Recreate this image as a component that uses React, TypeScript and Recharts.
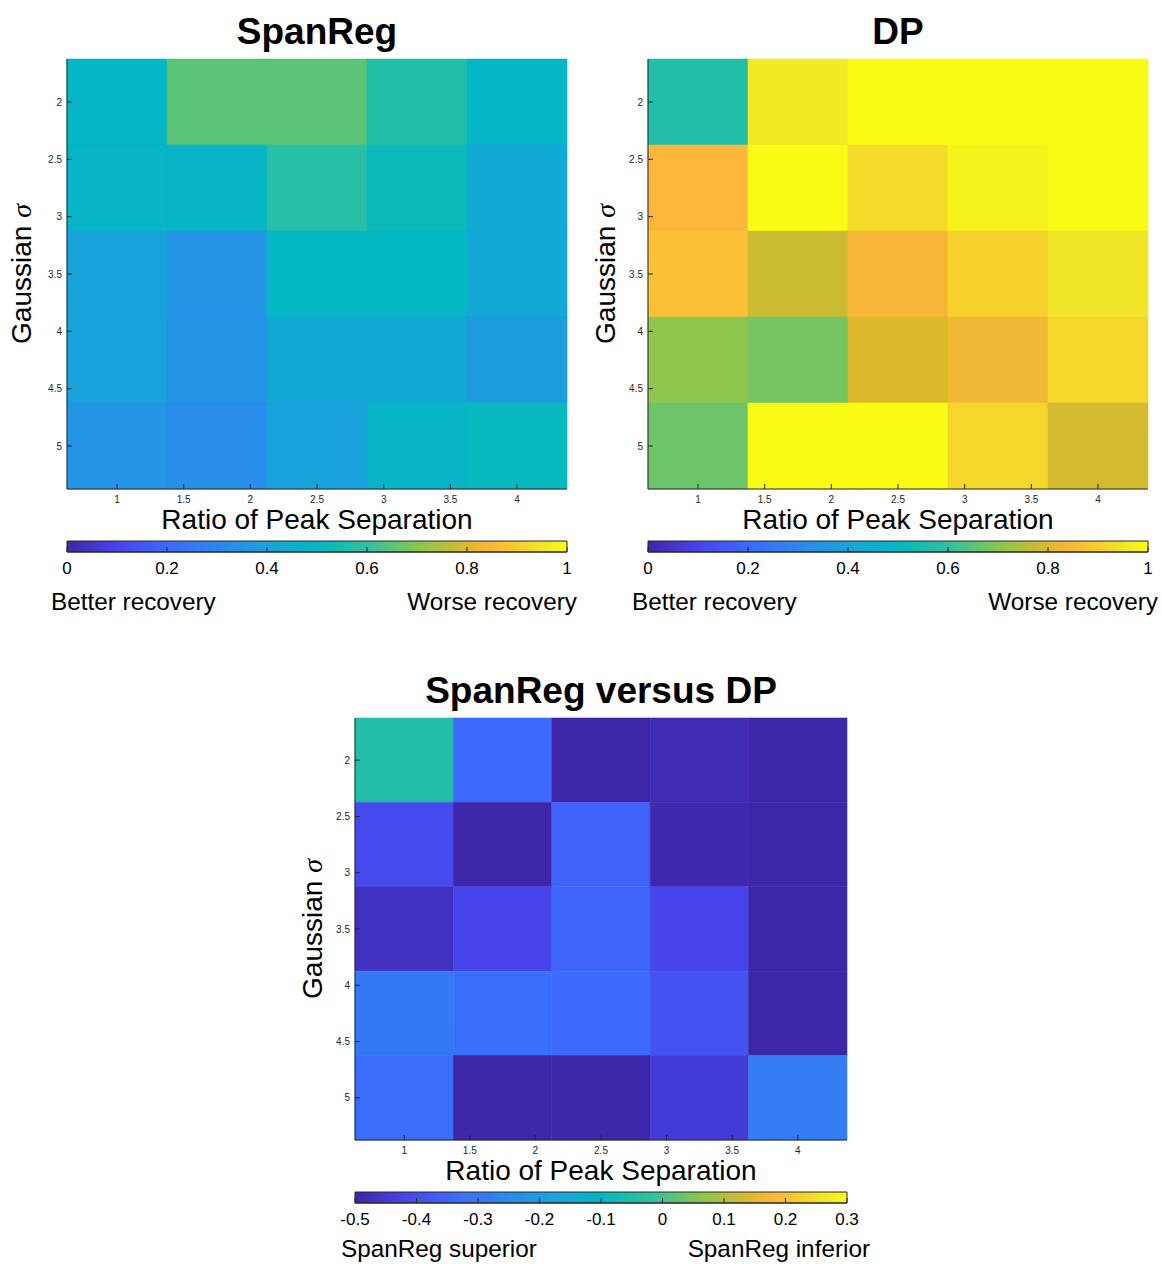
import React from 'react';
import { ComposedChart, XAxis, YAxis, ReferenceArea, Scatter } from 'recharts';

// grid: columns = ratio of peak separation, rows = gaussian sigma (imagesc-style cell centres)
const X_CENTERS = [1, 1.75, 2.5, 3.25, 4];
const Y_CENTERS = [2, 2.75, 3.5, 4.25, 5];
const X_TICKS = [1, 1.5, 2, 2.5, 3, 3.5, 4];
const Y_TICKS = [2, 2.5, 3, 3.5, 4, 4.5, 5];

// rows top → bottom (sigma 2 … 5), columns left → right (ratio 1 … 4)
const SPANREG = [
  [0.49, 0.65, 0.65, 0.57, 0.49],
  [0.48, 0.48, 0.58, 0.52, 0.43],
  [0.41, 0.35, 0.50, 0.50, 0.43],
  [0.40, 0.35, 0.43, 0.43, 0.38],
  [0.35, 0.33, 0.40, 0.48, 0.51],
];
const DP = [
  [0.57, 0.96, 1.00, 1.00, 1.00],
  [0.85, 1.00, 0.93, 0.98, 1.00],
  [0.87, 0.78, 0.84, 0.91, 0.95],
  [0.71, 0.68, 0.80, 0.83, 0.92],
  [0.67, 1.00, 1.00, 0.92, 0.79],
];
const DIFF = [
  [-0.044, -0.34, -0.50, -0.485, -0.50],
  [-0.41, -0.50, -0.355, -0.495, -0.50],
  [-0.47, -0.42, -0.35, -0.42, -0.50],
  [-0.30, -0.325, -0.34, -0.39, -0.50],
  [-0.33, -0.50, -0.50, -0.445, -0.29],
];

const RECOVERY_TICKS = [0, 0.2, 0.4, 0.6, 0.8, 1];
const DIFF_TICKS = [-0.5, -0.4, -0.3, -0.2, -0.1, 0, 0.1, 0.2, 0.3];

// parula-like colormap anchors
const PARULA: [number, string][] = [
  [0.0, '#3E26A8'],
  [0.1, '#4744EB'],
  [0.2, '#3D6AFC'],
  [0.3, '#2D86EE'],
  [0.4, '#1AA2DC'],
  [0.5, '#03B8C3'],
  [0.6, '#30C19D'],
  [0.7, '#86C752'],
  [0.8, '#DDB92B'],
  [0.85, '#FCB73B'],
  [0.9, '#F8CD2E'],
  [0.95, '#F1E528'],
  [1.0, '#F9FB14'],
];

const FONT = '"Liberation Sans", Arial, Helvetica, sans-serif';
const INK = '#262626';
const AX = { stroke: INK, strokeWidth: 1 };

function rgb(h: string) {
  return [1, 3, 5].map(i => parseInt(h.slice(i, i + 2), 16));
}

function parula(t: number) {
  const v = Math.max(0, Math.min(1, t));
  for (let i = 1; i < PARULA.length; i++) {
    const [t1, c1] = PARULA[i];
    if (v <= t1) {
      const [t0, c0] = PARULA[i - 1];
      const f = (v - t0) / (t1 - t0);
      const a = rgb(c0), b = rgb(c1);
      const m = a.map((x, k) => Math.round(x + (b[k] - x) * f));
      return `rgb(${m[0]},${m[1]},${m[2]})`;
    }
  }
  return PARULA[PARULA.length - 1][1];
}

// ---- tick renderers (MATLAB style: ticks point into the box) ----
const BottomTick = (p: any) => (
  <g>
    <line x1={p.x} x2={p.x} y1={p.y} y2={p.y - 5} stroke={INK} />
    <text x={p.x} y={p.y + 10} textAnchor="middle" dominantBaseline="central"
      fontSize={10} fontFamily={FONT} fill={INK}>{p.payload.value}</text>
  </g>
);
const TopTick = (p: any) => <line x1={p.x} x2={p.x} y1={p.y} y2={p.y + 5} stroke={INK} />;
const LeftTick = (p: any) => (
  <g>
    <line x1={p.x} x2={p.x + 5} y1={p.y} y2={p.y} stroke={INK} />
    <text x={p.x - 5} y={p.y} textAnchor="end" dominantBaseline="central"
      fontSize={10} fontFamily={FONT} fill={INK}>{p.payload.value}</text>
  </g>
);
const RightTick = (p: any) => <line x1={p.x} x2={p.x - 5} y1={p.y} y2={p.y} stroke={INK} />;

const BarTick = (p: any) => (
  <g>
    <line x1={p.x} x2={p.x} y1={p.y} y2={p.y - 5} stroke={INK} />
    <text x={p.x} y={p.y + 16} textAnchor="middle" dominantBaseline="central"
      fontSize={17} fontFamily={FONT} fill="#000">{p.payload.value}</text>
  </g>
);

function Heatmap({ values, cmin, cmax, left, top, w, h }: {
  values: number[][]; cmin: number; cmax: number; left: number; top: number; w: number; h: number;
}) {
  const hx = (X_CENTERS[1] - X_CENTERS[0]) / 2;
  const hy = (Y_CENTERS[1] - Y_CENTERS[0]) / 2;
  const xDom = [X_CENTERS[0] - hx, X_CENTERS[X_CENTERS.length - 1] + hx];
  const yDom = [Y_CENTERS[0] - hy, Y_CENTERS[Y_CENTERS.length - 1] + hy];
  const cells = Y_CENTERS.flatMap((y, r) => X_CENTERS.map((x, c) => ({ x, y, v: values[r][c] })));
  const ML = 50, MT = 10, MR = 10, MB = 20;
  return (
    <div style={{ position: 'absolute', left: left - ML, top: top - MT }}>
      <ComposedChart width={w + ML + MR} height={h + MT + MB} data={cells}
        margin={{ top: MT, right: MR, left: 0, bottom: 0 }}>
        {cells.map((d, i) => {
          const col = parula((d.v - cmin) / (cmax - cmin));
          return (
            <ReferenceArea key={i} xAxisId="b" yAxisId="l" ifOverflow="visible"
              x1={d.x - hx} x2={d.x + hx} y1={d.y - hy} y2={d.y + hy}
              fill={col} fillOpacity={1} stroke={col} strokeWidth={0.6} />
          );
        })}
        <Scatter xAxisId="b" yAxisId="l" dataKey="y" isAnimationActive={false}
          shape={() => <g />} />
        <XAxis xAxisId="b" type="number" dataKey="x" domain={xDom} ticks={X_TICKS} interval={0}
          allowDataOverflow height={MB} tickSize={0} tickMargin={0} tickLine={false}
          axisLine={AX} tick={BottomTick} />
        <XAxis xAxisId="t" orientation="top" type="number" dataKey="x" domain={xDom} ticks={X_TICKS}
          interval={0} allowDataOverflow height={0} tickSize={0} tickMargin={0} tickLine={false}
          axisLine={AX} tick={TopTick} />
        <YAxis yAxisId="l" type="number" dataKey="y" domain={yDom} ticks={Y_TICKS} interval={0}
          reversed allowDataOverflow width={ML} tickSize={0} tickMargin={0} tickLine={false}
          axisLine={AX} tick={LeftTick} />
        <YAxis yAxisId="r" orientation="right" type="number" dataKey="y" domain={yDom} ticks={Y_TICKS}
          interval={0} reversed allowDataOverflow width={0} tickSize={0} tickMargin={0} tickLine={false}
          axisLine={AX} tick={RightTick} />
      </ComposedChart>
    </div>
  );
}

function ColorBar({ id, cmin, cmax, ticks, left, top, w, h }: {
  id: string; cmin: number; cmax: number; ticks: number[]; left: number; top: number; w: number; h: number;
}) {
  const ML = 24, MR = 24, MT = 2, MB = 34;
  return (
    <div style={{ position: 'absolute', left: left - ML, top: top - MT }}>
      <ComposedChart width={w + ML + MR} height={h + MT + MB} data={[{ x: cmin, y: 0 }, { x: cmax, y: 1 }]}
        margin={{ top: MT, right: MR, left: ML, bottom: 0 }}>
        <defs>
          <linearGradient id={id} x1="0" y1="0" x2="1" y2="0">
            {PARULA.map(([t, c]) => <stop key={t} offset={`${t * 100}%`} stopColor={c} />)}
          </linearGradient>
        </defs>
        <ReferenceArea xAxisId="cb" yAxisId="cby" x1={cmin} x2={cmax} y1={0} y2={1} ifOverflow="visible"
          fill={`url(#${id})`} fillOpacity={1} stroke={INK} strokeWidth={1} />
        <XAxis xAxisId="cb" type="number" dataKey="x" domain={[cmin, cmax]} ticks={ticks} interval={0}
          allowDataOverflow height={MB} tickSize={0} tickMargin={0} tickLine={false}
          axisLine={AX} tick={BarTick} />
        <YAxis yAxisId="cby" type="number" dataKey="y" domain={[0, 1]} hide />
      </ComposedChart>
    </div>
  );
}

function Txt({ x, y, size, bold, anchor = 'middle', rotate, children }: {
  x: number; y: number; size: number; bold?: boolean; anchor?: 'start' | 'middle' | 'end';
  rotate?: boolean; children: React.ReactNode;
}) {
  const tx = anchor === 'start' ? '0' : anchor === 'end' ? '-100%' : '-50%';
  return (
    <div style={{
      position: 'absolute', left: x, top: y, whiteSpace: 'nowrap', lineHeight: 1,
      fontSize: size, fontWeight: bold ? 700 : 400, color: '#000', fontFamily: FONT,
      transform: `translate(${tx}, -50%)${rotate ? ' rotate(-90deg)' : ''}`,
      transformOrigin: rotate ? 'center' : undefined,
    }}>{children}</div>
  );
}

const Sigma = () => (
  <span style={{ fontFamily: '"Liberation Serif", "DejaVu Serif", serif', fontStyle: 'italic' }}>σ</span>
);

function Panel({ title, values, cmin, cmax, ticks, id, left, top, w, h, lo, hi, titleY, labelX, capL, capR, capY }: {
  title: string; values: number[][]; cmin: number; cmax: number; ticks: number[]; id: string;
  left: number; top: number; w: number; h: number; lo: string; hi: string; titleY: number; labelX: number;
  capL: number; capR: number; capY: number;
}) {
  const cx = left + w / 2;
  const bottom = top + h;
  return (
    <>
      <Txt x={cx} y={titleY} size={37} bold>{title}</Txt>
      <Heatmap values={values} cmin={cmin} cmax={cmax} left={left} top={top} w={w} h={h} />
      <Txt x={labelX} y={top + h / 2} size={28} rotate>Gaussian <Sigma /></Txt>
      <Txt x={cx} y={bottom + 31} size={28}>Ratio of Peak Separation</Txt>
      <ColorBar id={id} cmin={cmin} cmax={cmax} ticks={ticks} left={left} top={bottom + 52} w={w} h={11} />
      <Txt x={capL} y={capY} size={24.3} anchor="start">{lo}</Txt>
      <Txt x={capR} y={capY} size={24.3} anchor="end">{hi}</Txt>
    </>
  );
}

export default function App() {
  return (
    <div style={{ position: 'absolute', left: 0, top: 0, width: 1162, height: 1264, background: '#fff' }}>
      <Panel title="SpanReg" values={SPANREG} cmin={0} cmax={1} ticks={RECOVERY_TICKS} id="cb1"
        left={67} top={59} w={500} h={430} lo="Better recovery" hi="Worse recovery" titleY={31} labelX={22}
        capL={51} capR={577} capY={602} />
      <Panel title="DP" values={DP} cmin={0} cmax={1} ticks={RECOVERY_TICKS} id="cb2"
        left={648} top={59} w={500} h={430} lo="Better recovery" hi="Worse recovery" titleY={31} labelX={606}
        capL={632} capR={1158} capY={602} />
      <Panel title="SpanReg versus DP" values={DIFF} cmin={-0.5} cmax={0.3} ticks={DIFF_TICKS} id="cb3"
        left={355} top={718} w={492} h={422} lo="SpanReg superior" hi="SpanReg inferior" titleY={690} labelX={313}
        capL={341} capR={870} capY={1249} />
    </div>
  );
}
